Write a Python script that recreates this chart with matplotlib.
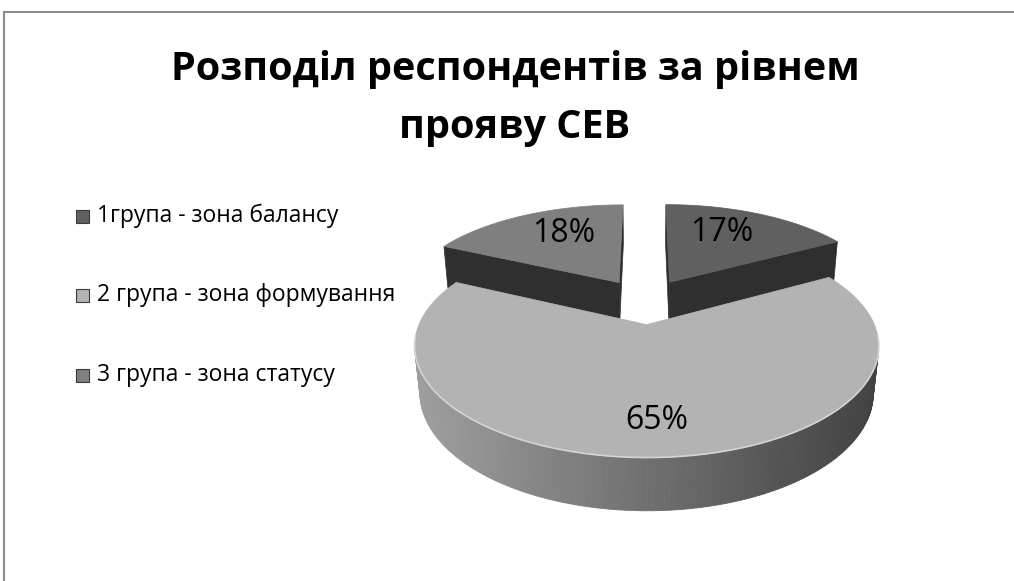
import numpy as np
import matplotlib.pyplot as plt
from matplotlib.patches import Polygon, Rectangle

plt.rcParams['font.family'] = ['Open Sans', 'DejaVu Sans']

title_lines = ["Розподіл респондентів за рівнем", "прояву СЕВ"]
labels = ['1група - зона балансу', '2 група - зона формування', '3 група - зона статусу']
values = [17, 65, 18]
top_colors = ['#606060', '#b3b3b3', '#7f7f7f']
side_color = '#2f2f2f'

# view of the 3d pie (pixel space)
cx, cy, R = 645, 301, 218
elev = np.radians(26.8)
dist = 4.82
thick = 0.235
explode = 0.23
sn, cs = np.sin(elev), np.cos(elev)
cam = np.array([0.0, -dist * cs, dist * sn])


def project(u, v, z):
    up = v * sn + z * cs
    depth = v * cs - z * sn
    p = dist / (dist + depth)
    return cx + R * u * p, cy - R * up * p


def visible(pt, n):
    return np.dot(cam - np.asarray(pt), np.asarray(n)) > 0


def rim_color(x):
    t = np.clip((x - (cx - R * 1.05)) / (2.1 * R), 0, 1)
    g = 0.62 * (1 - t) + 0.26 * t
    return (g, g, g)


fig = plt.figure(figsize=(10.14, 5.81), dpi=100)
ax = fig.add_axes([0, 0, 1, 1])
ax.set_xlim(0, 1014)
ax.set_ylim(581, 0)
ax.axis('off')

# chart border
ax.plot([4, 1020], [12, 12], color='#8c8c8c', lw=1.5)
ax.plot([4, 4], [12, 581], color='#8c8c8c', lw=1.5)

for line, y in zip(title_lines, [80, 138]):
    ax.text(515, y, line, ha='center', va='baseline', fontsize=28.5, fontweight='bold')

total = float(sum(values))
fracs = np.array(values) / total
starts = np.concatenate([[0], np.cumsum(fracs)[:-1]]) * 2 * np.pi
ends = np.cumsum(fracs) * 2 * np.pi

slices = []
for i in range(len(values)):
    th0, th1 = starts[i], ends[i]
    mid = 0.5 * (th0 + th1)
    ox, oy = explode * np.sin(mid), explode * np.cos(mid)
    slices.append((oy, i, th0, th1, mid, ox))

# back to front
for oy, i, th0, th1, mid, ox in sorted(slices, reverse=True):
    th = np.linspace(th0, th1, 200)
    u = ox + np.sin(th)
    v = oy + np.cos(th)

    # radial faces
    for ang, n in [(th0, (-np.cos(th0), np.sin(th0), 0)),
                   (th1, (np.cos(th1), -np.sin(th1), 0))]:
        ru, rv = ox + np.sin(ang), oy + np.cos(ang)
        centre = (0.5 * (ox + ru), 0.5 * (oy + rv), -thick / 2)
        if visible(centre, n):
            pts = [project(ox, oy, 0), project(ru, rv, 0),
                   project(ru, rv, -thick), project(ox, oy, -thick)]
            ax.add_patch(Polygon(pts, closed=True, fc=side_color, ec=side_color, lw=0.5))

    # outer rim
    for k in range(len(th) - 1):
        tm = 0.5 * (th[k] + th[k + 1])
        pm = (ox + np.sin(tm), oy + np.cos(tm), -thick / 2)
        if not visible(pm, (np.sin(tm), np.cos(tm), 0)):
            continue
        pts = [project(u[k], v[k], 0), project(u[k + 1], v[k + 1], 0),
               project(u[k + 1], v[k + 1], -thick), project(u[k], v[k], -thick)]
        col = rim_color(0.5 * (pts[0][0] + pts[1][0]))
        ax.add_patch(Polygon(pts, closed=True, fc=col, ec=col, lw=0.6))

    # top face
    xs, ys = project(np.concatenate([[ox], u]), np.concatenate([[oy], v]), 0)
    ax.add_patch(Polygon(np.column_stack([xs, ys]), closed=True,
                         fc=top_colors[i], ec=top_colors[i], lw=0.5))

    # label
    f = 0.76 if fracs[i] > 0.5 else 0.55
    lx, ly = project(ox + f * np.sin(mid), oy + f * np.cos(mid), 0)
    if fracs[i] < 0.5:
        ly -= 10
    ax.text(lx + (3 if fracs[i] > 0.5 else 0), ly, '%d%%' % round(fracs[i] * 100),
            ha='center', va='center', fontsize=23, color='black')

# highlight on the front edge of the big slice
big = int(np.argmax(values))
th = np.linspace(np.pi / 2 + 0.1, 3 * np.pi / 2 - 0.1, 200)
mid = 0.5 * (starts[big] + ends[big])
hx, hy = project(explode * np.sin(mid) + np.sin(th), explode * np.cos(mid) + np.cos(th), 0)
ax.plot(hx, hy, color='#d4d4d4', lw=1.2)

# legend
leg_y = [216, 295, 375]
for lab, col, y in zip(labels, top_colors, leg_y):
    ax.add_patch(Rectangle((76, y - 6.5), 13, 13, fc=col, ec='#3a3a3a', lw=0.8))
    ax.text(97, y, lab, va='center', ha='left', fontsize=16.5, color='black')

fig.savefig('out.png', dpi=100)
